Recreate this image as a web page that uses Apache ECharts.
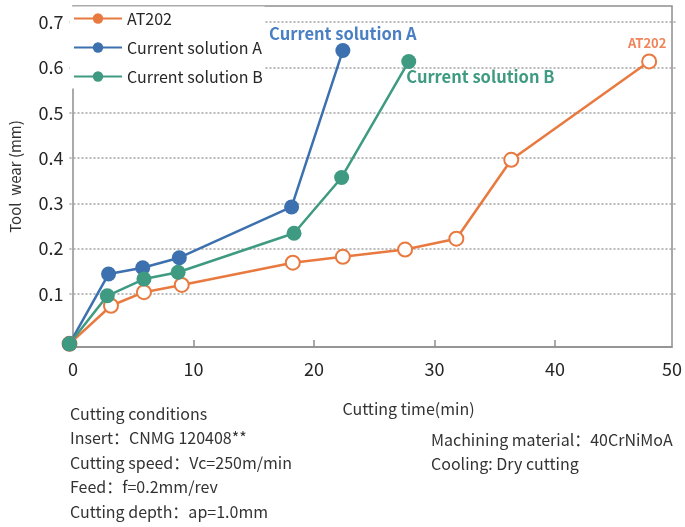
<!DOCTYPE html>
<html>
<head>
<meta charset="utf-8">
<script src="https://cdn.jsdelivr.net/npm/echarts@6/dist/echarts.min.js"></script>
<style>
html,body{margin:0;padding:0;background:#fff;}
#chart{width:685px;height:527px;}
</style>
</head>
<body>
<div id="chart"></div>
<script>
// ---- data ----
const seriesNames = ['AT202', 'Current solution A', 'Current solution B'];
const timeAT = [0, 3.4, 6.1, 9.2, 18.3, 22.4, 27.5, 31.7, 36.2, 47.5];
const wearAT = [-0.01, 0.074, 0.104, 0.120, 0.169, 0.182, 0.198, 0.222, 0.396, 0.613];
const timeA = [0, 3.2, 6.0, 9.0, 18.2, 22.4];
const wearA = [-0.01, 0.144, 0.158, 0.180, 0.292, 0.637];
const timeB = [0, 3.1, 6.1, 8.9, 18.4, 22.3, 27.8];
const wearB = [-0.01, 0.096, 0.133, 0.148, 0.234, 0.357, 0.613];
const xTickValues = [0, 10, 20, 30, 40, 50];
const yTickLabels = ['0.1', '0.2', '0.3', '0.4', '0.5', '0.6', '0.7'];
const xAxisTitle = 'Cutting time(min)';
const yAxisTitle = 'Tool  wear (mm)';
const condLeft = ['Cutting conditions', 'Insert：CNMG 120408**', 'Cutting speed：Vc=250m/min', 'Feed：f=0.2mm/rev', 'Cutting depth：ap=1.0mm'];
const condRight = ['Machining material：40CrNiMoA', 'Cooling: Dry cutting'];

// ---- styles ----
const FONT = '"Noto Sans CJK SC", "Noto Sans", sans-serif';
const C_OR = '#E8793F', C_BL = '#3C70AE', C_GR = '#3E9A80';
const X_MAX = 49.7;
const GL = 69.5, GR = 9;

function pairs(xs, ys) { return xs.map((x, i) => [x, ys[i]]); }
function lastLabel(data, label) {
  return data.map((d, i) => i === data.length - 1 ? { value: d, label: Object.assign({ show: true }, label) } : d);
}

const chart = echarts.init(document.getElementById('chart'), null, { renderer: 'canvas' });

const graphics = [];
condLeft.forEach((t, i) => graphics.push({ type: 'text', left: 70, top: 406 + i * 24.4, style: { text: t, font: '16px ' + FONT, fill: '#333' } }));
condRight.forEach((t, i) => graphics.push({ type: 'text', left: 431, top: 432 + i * 24.4, style: { text: t, font: '16px ' + FONT, fill: '#333' } }));

chart.setOption({
  animation: false,
  backgroundColor: '#fff',
  textStyle: { fontFamily: FONT },
  grid: [
    { left: GL, right: GR, top: 22, bottom: 527 - 339.3 },
    { left: GL, right: GR, top: 6, bottom: 180, show: true, borderColor: '#8e8e8e', borderWidth: 1.5, backgroundColor: 'transparent' }
  ],
  xAxis: [
    { gridIndex: 0, type: 'value', min: 0, max: X_MAX, show: false },
    {
      gridIndex: 1, type: 'value', min: 0, max: X_MAX,
      axisLine: { show: true, lineStyle: { color: '#8e8e8e', width: 1.5 } },
      axisTick: { show: true, inside: true, length: 7, customValues: [10, 20, 30, 40], lineStyle: { color: '#8e8e8e', width: 1.5 } },
      axisLabel: { customValues: xTickValues.map(v => Math.min(v, X_MAX)), formatter: v => String(Math.round(v)), fontSize: 18, color: '#262626', margin: 13, fontFamily: FONT },
      splitLine: { show: false },
      name: xAxisTitle, nameLocation: 'middle', nameGap: 54,
      nameTextStyle: { fontSize: 16, color: '#333', fontFamily: FONT, padding: [0, 0, 0, 72] }
    }
  ],
  yAxis: [
    {
      gridIndex: 0, type: 'value', min: 0, max: 0.7, interval: 0.1,
      axisLine: { show: false }, axisTick: { show: false },
      axisLabel: { formatter: v => (v === 0 ? '' : yTickLabels[Math.round(v * 10) - 1]), fontSize: 18, color: '#262626', margin: 6, fontFamily: FONT },
      splitLine: { show: true, showMinLine: false, lineStyle: { color: '#a3a3a3', width: 1.5, type: [2, 2] } }
    },
    {
      gridIndex: 1, type: 'value', min: 0, max: 1,
      axisLine: { show: false }, axisTick: { show: false }, axisLabel: { show: false }, splitLine: { show: false },
      name: yAxisTitle, nameLocation: 'middle', nameRotate: 90, nameGap: 50,
      nameTextStyle: { fontSize: 15, color: '#333', fontFamily: FONT }
    }
  ],
  legend: {
    orient: 'vertical', left: 70, top: 6.5, padding: [4, 2, 4, 3],
    backgroundColor: '#fff', itemWidth: 48, itemHeight: 13, itemGap: 13,
    textStyle: { fontSize: 16, color: '#262626', fontFamily: FONT },
    data: [
      { name: seriesNames[0], itemStyle: { color: C_OR, borderWidth: 0 } },
      { name: seriesNames[1] },
      { name: seriesNames[2] }
    ]
  },
  series: [
    {
      name: seriesNames[0], type: 'line', xAxisIndex: 0, yAxisIndex: 0, clip: false,
      symbol: 'circle', symbolSize: 14, color: C_OR,
      lineStyle: { width: 2.5, color: C_OR }, itemStyle: { color: '#fff', borderColor: C_OR, borderWidth: 2 },
      data: lastLabel(pairs(timeAT, wearAT), { formatter: seriesNames[0], position: 'top', distance: 4, offset: [-2, 0], color: '#F0845A', fontSize: 13, fontWeight: 'bold', fontFamily: FONT })
    },
    {
      name: seriesNames[1], type: 'line', xAxisIndex: 0, yAxisIndex: 0, clip: false,
      symbol: 'circle', symbolSize: 15, color: C_BL,
      lineStyle: { width: 2.5, color: C_BL }, itemStyle: { color: C_BL },
      data: lastLabel(pairs(timeA, wearA), { formatter: seriesNames[1], position: 'top', distance: 1, color: '#4A7FC3', fontSize: 16.5, fontWeight: 'bold', fontFamily: FONT })
    },
    {
      name: seriesNames[2], type: 'line', xAxisIndex: 0, yAxisIndex: 0, clip: false,
      symbol: 'circle', symbolSize: 15, color: C_GR,
      lineStyle: { width: 2.5, color: C_GR }, itemStyle: { color: C_GR },
      data: lastLabel(pairs(timeB, wearB), { formatter: seriesNames[2], position: [5, 22.5], align: 'left', verticalAlign: 'middle', color: '#3E9A80', fontSize: 16.5, fontWeight: 'bold', fontFamily: FONT })
    }
  ],
  graphic: graphics
});
</script>
</body>
</html>
